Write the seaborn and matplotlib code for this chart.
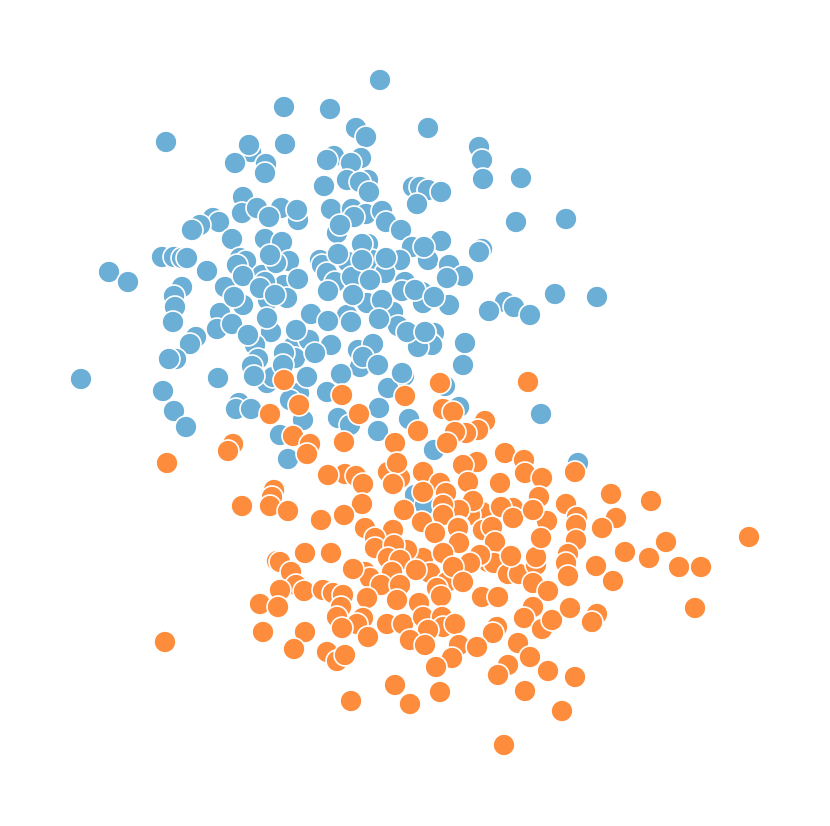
import matplotlib
matplotlib.use('Agg')
import matplotlib.pyplot as plt
import pandas as pd
import seaborn as sns

# values, later points sit on top
blue_x = [380,284,330,428,356,366,166,285,251,249,479,482,235,266,265,334,327,361,351,483,521,347,368,360,324,369,413,420,428,441,417,243,242,257,281,298,297,331,352,366,354,382,386,401,337,340,516,566,269,213,219,200,192,
          232,265,282,441,412,368,482,479,162,174,182,187,207,289,240,246,262,276,284,237,265,225,243,287,220,217,268,271,255,311,
          320,322,327,335,348,352,372,400,385,405,415,428,422,449,463,423,109,128,182,174,175,173,449,555,597,505,489,514,530,347,434,430,418,465,196,190,176,169,
          258,293,295,331,358,432,418,360,252,309,393,404,463,218,81,163,267,273,327,299,388,445,174,186,239,236,251,290,303,338,350,379,409,459,541,280,378,434,288,578,415,425,
          398,425,367,382,353,328,402,415,338,362,386,362,370,424,447,434,
          243,260,275,234,298,267,296,232,248,270,254,284,283,315,307,
          328,351,379,407,425,373,363,378,402,341]
blue_y = [80,107,109,128,128,137,142,144,152,145,147,160,163,164,173,156,160,158,163,179,178,180,180,182,186,192,187,187,190,192,204,197,213,208,208,220,210,209,209,214,217,211,222,230,233,225,222,219,217,218,222,225,230,
          239,239,242,241,247,244,249,252,257,257,258,258,271,261,258,261,275,263,285,265,282,287,305,298,313,329,300,332,345,314,
          260,265,273,282,262,277,260,260,273,282,290,260,292,265,276,303,272,282,287,296,307,322,305,294,297,302,311,307,315,315,333,343,347,343,337,344,359,359,
          359,347,358,345,350,345,347,367,366,340,312,376,365,378,379,391,383,377,392,393,388,386,411,427,403,409,409,400,420,418,425,408,419,407,414,435,431,450,459,463,495,505,
          326,332,303,300,295,291,291,290,254,244,258,260,280,247,278,297,
          276,288,295,297,279,318,330,324,335,255,376,353,365,353,377,
          321,322,319,332,332,344,357,365,373,374]
orange_x = [284,342,440,528,405,299,270,359,443,453,485,478,466,455,418,293,310,344,395,233,228,307,447,167,
            345,356,328,363,477,500,505,524,525,542,575,274,272,270,242,288,362,344,321,482,
            470,483,492,495,488,494,508,519,536,536,511,533,548,482,498,533,524,542,552,497,493,
            513,501,513,547,541,539,533,566,611,651,577,576,616,602,749,576,305,331,277,280,291,568,566,596,625,649,666,679,701,613,568,296,304,280,
            260,278,695,570,597,592,263,305,294,165,518,530,508,498,548,575,395,440,525,351,410,562,504,
            388,400,397,393,423,440,423,446,463,468,473,459,443,443,404,422,459,
            365,393,375,365,375,435,423,407,394,388,458,459,480,470,
            370,353,400,430,447,443,453,416,392,381,400,463,437,441,419,397,
            323,333,343,367,341,363,337,357,342,368,387,403,423,442,443,428,455,
            410,425,459,477,327,337,345,452,436]
orange_y = [380,395,383,382,396,405,414,414,409,412,421,430,433,432,431,436,444,442,443,444,451,454,443,463,
            474,476,475,484,462,483,453,460,473,478,472,490,497,506,506,511,504,515,520,512,
            515,530,527,542,562,563,574,574,565,557,556,583,591,597,597,607,618,629,620,627,633,
            508,507,518,521,538,497,510,504,494,501,517,525,518,528,537,540,553,553,561,562,572,554,563,566,552,558,542,567,567,581,576,585,591,590,
            604,607,608,608,614,622,632,632,649,642,643,657,665,675,671,677,685,692,691,701,704,711,745,
            472,478,463,484,472,483,492,493,465,482,501,510,505,515,510,522,527,
            528,530,538,572,548,533,558,550,545,558,528,543,555,563,
            578,569,560,573,582,553,567,570,572,585,585,582,588,596,603,600,
            590,593,595,598,607,618,617,624,628,637,624,624,617,617,627,630,624,
            640,645,645,647,652,661,655,658,667]

blue = pd.DataFrame({'x': blue_x, 'y': blue_y, 'group': 'a'})
orange = pd.DataFrame({'x': orange_x, 'y': orange_y, 'group': 'b'})
df = pd.concat([blue, orange], ignore_index=True)

sns.set_style('white')
fig = plt.figure(figsize=(8.30, 8.26), dpi=100)
ax = fig.add_axes([0, 0, 1, 1])
sns.scatterplot(data=df, x='x', y='y', hue='group', palette=['#6baed6', '#fd8d3c'],
                s=250, edgecolor='white', linewidth=1.2, alpha=1, legend=False, ax=ax)
ax.set_xlim(0, 830)
ax.set_ylim(826, 0)
ax.axis('off')
fig.savefig('out.png', dpi=100)
